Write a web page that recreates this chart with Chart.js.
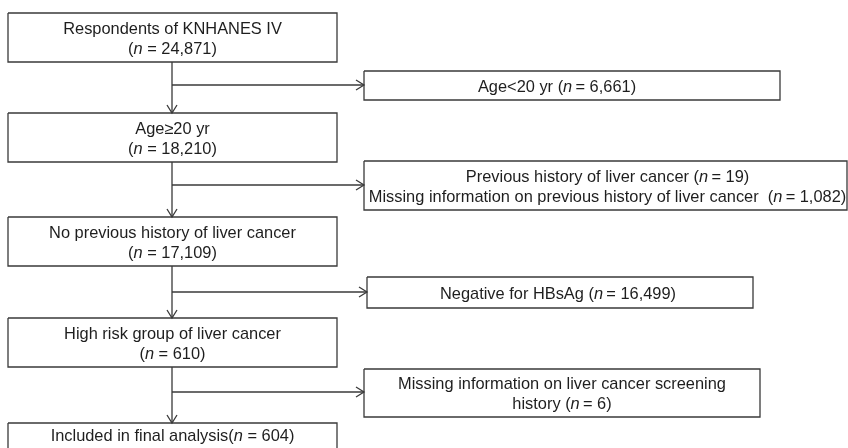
<!DOCTYPE html>
<html>
<head>
<meta charset="utf-8">
<script src="https://cdn.jsdelivr.net/npm/chart.js@4"></script>
<style>
  html, body { margin: 0; padding: 0; background: #fff; }
  #flow { display: block; }
</style>
</head>
<body>
<canvas id="flow" width="848" height="448"></canvas>
<script>
// Flowchart content
const mainSteps = ["Respondents of KNHANES IV", "Age\u226520 yr", "No previous history of liver cancer", "High risk group of liver cancer", "Included in final analysis"];
const mainCounts = [24871, 18210, 17109, 610, 604];
const excludedLines = [
    ["Age<20 yr"],
    ["Previous history of liver cancer", "Missing information on previous history of liver cancer "],
    ["Negative for HBsAg"],
    ["Missing information on liver cancer screening", "history"]
];
const excludedCounts = [[6661], [19, 1082], [16499], [null, 6]];

// Layout (canvas units, y grows downward)
const stemX = 172;
const mainX = [8, 337];
const mainTops = [13, 113, 217, 318, 423];
const mainHeight = 49;
const sideBoxes = [[364, 780, 71, 100], [364, 847, 161, 210], [367, 753, 277, 308], [364, 760, 369, 417]];
const sideTextShift = [-15, 2, -2, 0];
const branchY = [85, 185, 292, 392];
const lineColor = '#3a3a3a';
const textColor = '#1e1e1e';
const fontFamily = '"Liberation Sans", Arial, sans-serif';
const fontSize = 16.4;
const lineGap = 20;
const textDrop = 1.5;

function fmt(n) {
    return n.toLocaleString('en-US');
}

function countSegs(n, sep) {
    return [{ t: '(' }, { t: 'n', i: true }, { t: sep + fmt(n) + ')' }];
}

function seg(xs, ys) {
    return xs.map((x, k) => ({ x: x, y: ys[k] }));
}

function lineSet(points, width) {
    return {
        data: points,
        showLine: true,
        borderColor: lineColor,
        borderWidth: width || 1.3,
        pointRadius: 0,
        fill: false,
        tension: 0
    };
}

function rect(x0, x1, y0, y1) {
    return lineSet(seg([x0, x1, x1, x0, x0], [y0, y0, y1, y1, y0]));
}

// open arrowhead pointing down or right at the tip
function arrowHead(x, y, dir) {
    if (dir === 'down') return lineSet(seg([x - 5, x, x + 5], [y - 8, y, y - 8]));
    return lineSet(seg([x - 8, x, x - 8], [y - 5, y, y + 5]));
}

const datasets = [];
const textBlocks = [];

mainSteps.forEach((label, i) => {
    const top = mainTops[i];
    const bottom = top + mainHeight;
    datasets.push(rect(mainX[0], mainX[1], top, bottom));
    const cy = top + mainHeight / 2 + textDrop;
    if (i < mainSteps.length - 1) {
        textBlocks.push({ cx: (mainX[0] + mainX[1]) / 2, cy: cy, lines: [[{ t: label }], countSegs(mainCounts[i], ' = ')] });
        // stem down to the next box
        const nextTop = mainTops[i + 1];
        datasets.push(lineSet(seg([stemX, stemX], [bottom, nextTop])));
        datasets.push(arrowHead(stemX, nextTop, 'down'));
        // branch to the excluded box
        const sb = sideBoxes[i];
        datasets.push(lineSet(seg([stemX, sb[0]], [branchY[i], branchY[i]])));
        datasets.push(arrowHead(sb[0], branchY[i], 'right'));
        datasets.push(rect(sb[0], sb[1], sb[2], sb[3]));
        const lines = excludedLines[i].map((txt, k) => {
            const n = excludedCounts[i][k];
            if (n === null || n === undefined) return [{ t: txt }];
            return [{ t: txt + ' ' }].concat(countSegs(n, '\u2009= '));
        });
        textBlocks.push({ cx: (sb[0] + sb[1]) / 2 + sideTextShift[i], cy: (sb[2] + sb[3]) / 2 + textDrop, lines: lines });
    } else {
        textBlocks.push({ cx: (mainX[0] + mainX[1]) / 2, cy: top + 13, lines: [[{ t: label }].concat(countSegs(mainCounts[i], ' = '))] });
    }
});

// draws the box texts through the chart scales
const flowText = {
    id: 'flowText',
    afterDatasetsDraw(chart) {
        const ctx = chart.ctx;
        const xs = chart.scales.x;
        const ys = chart.scales.y;
        ctx.save();
        ctx.fillStyle = textColor;
        ctx.textBaseline = 'middle';
        ctx.textAlign = 'left';
        textBlocks.forEach(block => {
            const cx = xs.getPixelForValue(block.cx);
            const cy = ys.getPixelForValue(block.cy);
            const startY = cy - (block.lines.length - 1) * lineGap / 2;
            block.lines.forEach((line, li) => {
                let total = 0;
                line.forEach(s => {
                    ctx.font = (s.i ? 'italic ' : '') + fontSize + 'px ' + fontFamily;
                    s.w = ctx.measureText(s.t).width;
                    total += s.w;
                });
                let x = cx - total / 2;
                line.forEach(s => {
                    ctx.font = (s.i ? 'italic ' : '') + fontSize + 'px ' + fontFamily;
                    ctx.fillText(s.t, x, startY + li * lineGap);
                    x += s.w;
                });
            });
        });
        ctx.restore();
    }
};

new Chart(document.getElementById('flow'), {
    type: 'scatter',
    data: { datasets: datasets },
    options: {
        responsive: false,
        animation: false,
        layout: { padding: 0 },
        plugins: { legend: { display: false }, tooltip: { enabled: false } },
        scales: {
            x: { type: 'linear', min: 0, max: 848, display: false },
            y: { type: 'linear', min: 0, max: 448, reverse: true, display: false }
        }
    },
    plugins: [flowText]
});
</script>
</body>
</html>
